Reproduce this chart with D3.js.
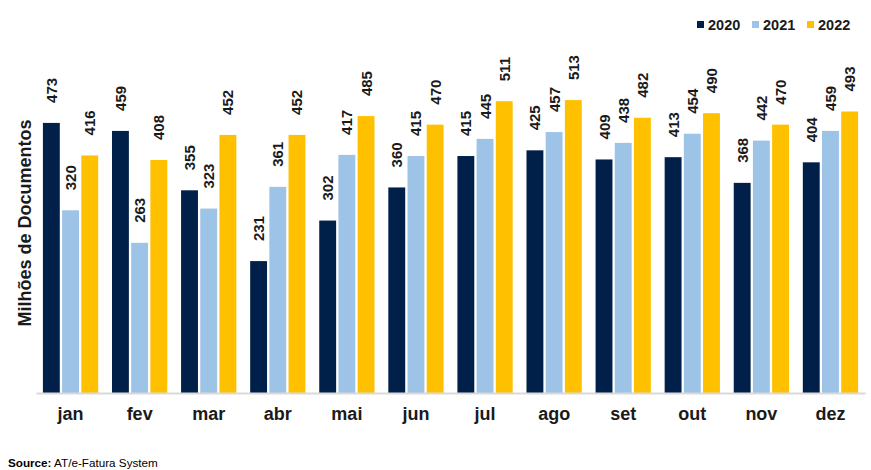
<!DOCTYPE html>
<html>
<head>
<meta charset="utf-8">
<script src="https://cdn.jsdelivr.net/npm/d3@7"></script>
<style>
  body { margin: 0; background: #fff; font-family: "Liberation Sans", Arial, sans-serif; }
</style>
</head>
<body>
<script>
// data
const months = ["jan", "fev", "mar", "abr", "mai", "jun", "jul", "ago", "set", "out", "nov", "dez"];
const years = ["2020", "2021", "2022"];
const values2020 = [473, 459, 355, 231, 302, 360, 415, 425, 409, 413, 368, 404];
const values2021 = [320, 263, 323, 361, 417, 415, 445, 457, 438, 454, 442, 459];
const values2022 = [416, 408, 452, 452, 485, 470, 511, 513, 482, 490, 470, 493];
const colors = ["#00204a", "#9dc3e6", "#ffc000"];

const width = 871;
const height = 470;
const baseline = 393;

const svg = d3.select("body").append("svg")
  .attr("width", width)
  .attr("height", height);

const series = [values2020, values2021, values2022];
const rows = [];
months.forEach((m, i) => {
  years.forEach((y, j) => rows.push({ month: m, year: y, value: series[j][i] }));
});

// scales
const x0 = d3.scaleBand().domain(months).range([36, 865]).paddingInner(0.2).paddingOuter(0.1);
const x1 = d3.scaleBand().domain(years).range([0, x0.bandwidth()]).paddingInner(0.12);
const yScale = d3.scaleLinear().domain([0, 600]).range([baseline, baseline - 342.6]);

// bars
svg.append("g")
  .selectAll("rect")
  .data(rows)
  .enter()
  .append("rect")
  .attr("x", d => x0(d.month) + x1(d.year))
  .attr("y", d => yScale(d.value))
  .attr("width", x1.bandwidth())
  .attr("height", d => baseline - yScale(d.value))
  .attr("fill", (d) => colors[years.indexOf(d.year)]);

// value labels (rotated)
svg.append("g")
  .selectAll("text")
  .data(rows)
  .enter()
  .append("text")
  .attr("transform", d => {
    const cx = x0(d.month) + x1(d.year) + x1.bandwidth() / 2 + 5.5;
    const cy = yScale(d.value) - 20;
    return `translate(${cx},${cy}) rotate(-90)`;
  })
  .attr("text-anchor", "start")
  .style("font-size", "15px")
  .style("font-weight", "bold")
  .attr("fill", "#1a1a1a")
  .text(d => d.value);

// x axis
const xAxis = d3.axisBottom(x0).tickSize(0).tickPadding(14);
const gx = svg.append("g")
  .attr("transform", `translate(0,${baseline})`)
  .call(xAxis);
gx.select(".domain").attr("stroke", "#d9d9d9").attr("stroke-width", 2);
gx.selectAll("text")
  .style("font-size", "18px")
  .style("font-weight", "bold")
  .style("font-family", "'Liberation Sans', Arial, sans-serif")
  .attr("fill", "#1a1a1a");

// y axis title
svg.append("text")
  .attr("transform", "translate(31,223) rotate(-90)")
  .attr("text-anchor", "middle")
  .style("font-size", "18px")
  .style("font-weight", "bold")
  .attr("fill", "#1a1a1a")
  .text("Milhões de Documentos");

// legend
const legendX = [697, 752, 807];
const legend = svg.append("g").attr("class", "legend");
legend.selectAll("rect")
  .data(years)
  .enter()
  .append("rect")
  .attr("x", (d, i) => legendX[i])
  .attr("y", 21)
  .attr("width", 7)
  .attr("height", 7)
  .attr("fill", (d, i) => colors[i]);
legend.selectAll("text")
  .data(years)
  .enter()
  .append("text")
  .attr("x", (d, i) => legendX[i] + 11)
  .attr("y", 29.5)
  .style("font-size", "14.5px")
  .style("font-weight", "bold")
  .attr("fill", "#1a1a1a")
  .text(d => d);

// source
const src = svg.append("text")
  .attr("x", 8)
  .attr("y", 467)
  .style("font-size", "11.7px")
  .attr("fill", "#000");
src.append("tspan").style("font-weight", "bold").text("Source:");
src.append("tspan").text(" AT/e-Fatura System");
</script>
</body>
</html>
